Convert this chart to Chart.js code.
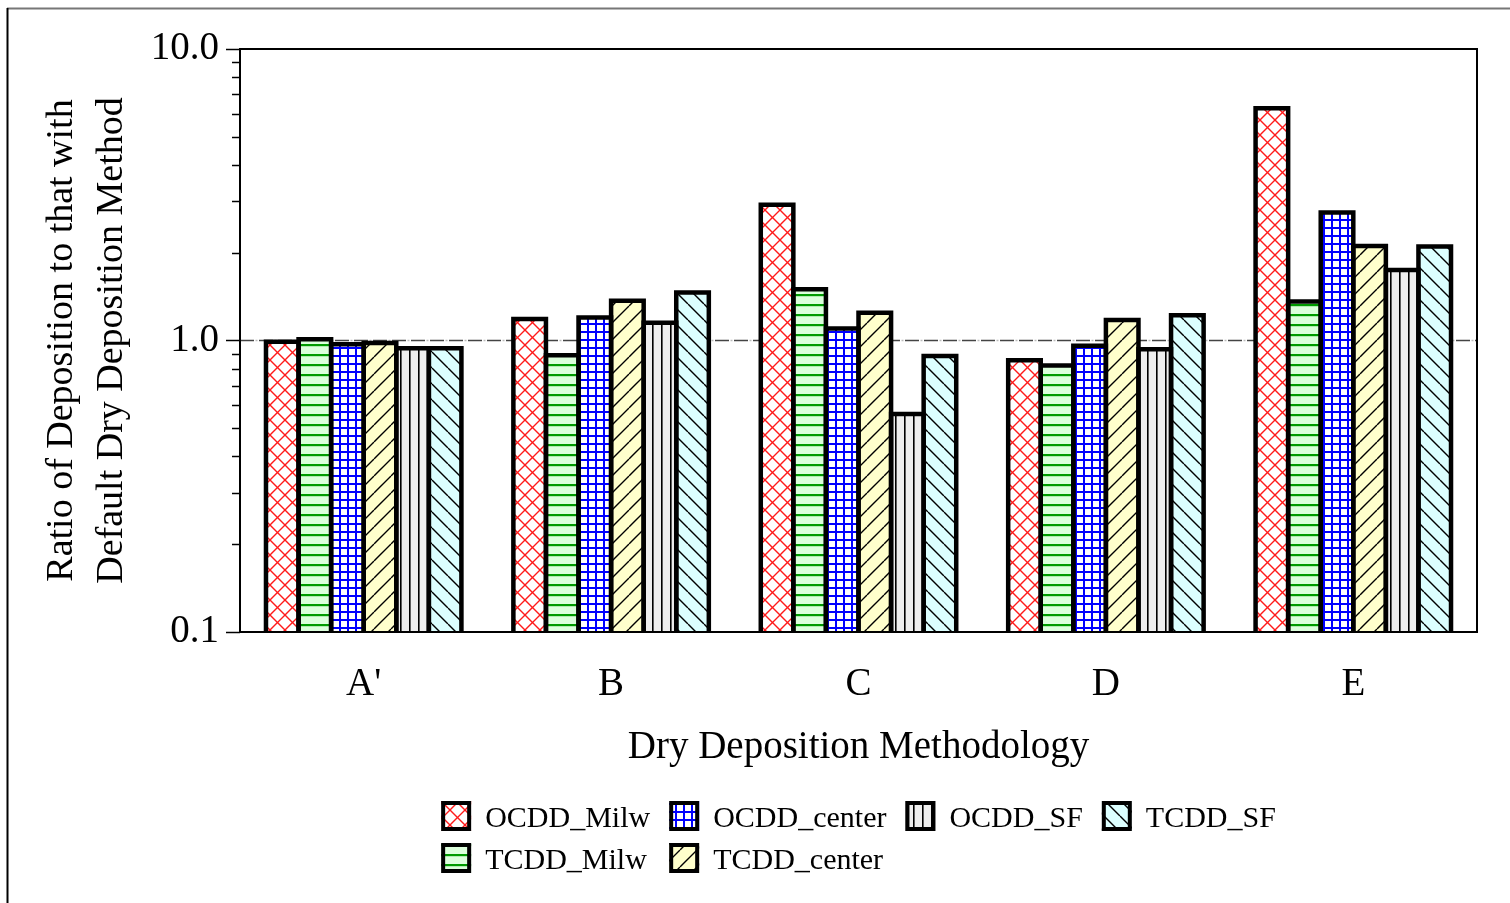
<!DOCTYPE html>
<html><head><meta charset="utf-8">
<script src="https://cdn.jsdelivr.net/npm/chart.js@4.4.1/dist/chart.umd.min.js"></script>
<style>
html,body{margin:0;padding:0;background:#fff;overflow:hidden;}
#wrap{position:relative;width:1510px;height:903px;}
</style></head><body>
<div id="wrap"><canvas id="c" width="1510" height="903"></canvas></div>
<script>
// ---- data ----
const categories = ["A'", 'B', 'C', 'D', 'E'];
const seriesNames = ['OCDD_Milw', 'TCDD_Milw', 'OCDD_center', 'TCDD_center', 'OCDD_SF', 'TCDD_SF'];
const ocddMilw   = [0.99, 1.185, 2.92, 0.855, 6.26];
const tcddMilw   = [1.01, 0.89, 1.50, 0.82, 1.36];
const ocddCenter = [0.97, 1.20, 1.10, 0.96, 2.75];
const tcddCenter = [0.98, 1.37, 1.245, 1.175, 2.11];
const ocddSF     = [0.94, 1.15, 0.56, 0.933, 1.745];
const tcddSF     = [0.94, 1.46, 0.885, 1.22, 2.10];
const yTickValues = [0.1,0.2,0.3,0.4,0.5,0.6,0.7,0.8,0.9,1,2,3,4,5,6,7,8,9,10];
const yMajorValues = [0.1, 1, 10];
const yMajorLabels = ['0.1', '1.0', '10.0'];
const xTitle = 'Dry Deposition Methodology';
const yTitle = ['Ratio of Deposition to that with', 'Default Dry Deposition Method'];
// legend columns (series indices, top row first)
const legendColumns = [[0, 1], [2, 3], [4], [5]];

const FONT = "'Liberation Serif', 'Times New Roman', serif";
const canvas = document.getElementById('c');
const mainCtx = canvas.getContext('2d');

function makePattern(size, bg, draw) {
  const c = document.createElement('canvas');
  c.width = size; c.height = size;
  const g = c.getContext('2d');
  g.fillStyle = bg; g.fillRect(0, 0, size, size);
  draw(g, size);
  return mainCtx.createPattern(c, 'repeat');
}
function diag(g, s, dir) {
  g.beginPath();
  for (const k of [-s, 0, s]) {
    if (dir > 0) { g.moveTo(k, s); g.lineTo(k + s, 0); }   // "/"
    else { g.moveTo(k, 0); g.lineTo(k + s, s); }           // "\"
  }
  g.stroke();
}
const patterns = [
  makePattern(15, '#ffffff', (g, s) => { g.strokeStyle = '#ff1a1a'; g.lineWidth = 1.4; diag(g, s, 1); diag(g, s, -1); }),
  makePattern(10, '#dcffdc', (g, s) => { g.fillStyle = '#009a00'; g.fillRect(0, 4, s, 2.2); }),
  makePattern(8, '#ffffff', (g, s) => { g.fillStyle = '#0000ff'; g.fillRect(3, 0, 2, s); g.fillRect(0, 3, s, 2); }),
  makePattern(17, '#ffffcc', (g, s) => { g.strokeStyle = '#000'; g.lineWidth = 1.4; diag(g, s, 1); }),
  makePattern(9, '#eeeeee', (g, s) => { g.fillStyle = '#000'; g.fillRect(4, 0, 1.6, s); }),
  makePattern(16, '#dcffff', (g, s) => { g.strokeStyle = '#000'; g.lineWidth = 1.4; diag(g, s, -1); })
];
const seriesData = [ocddMilw, tcddMilw, ocddCenter, tcddCenter, ocddSF, tcddSF];

const isMajor = v => yMajorValues.some(m => Math.abs(m - v) < 1e-9);
const majorLabel = v => { const i = yMajorValues.findIndex(m => Math.abs(m - v) < 1e-9); return i >= 0 ? yMajorLabels[i] : ''; };

const decor = {
  id: 'decor',
  beforeDraw(chart) {
    const c = chart.ctx;
    c.save();
    c.fillStyle = '#fff'; c.fillRect(0, 0, chart.width, chart.height);
    c.restore();
  },
  beforeDatasetsDraw(chart) {
    const c = chart.ctx, a = chart.chartArea, y = chart.scales.y.getPixelForValue(1);
    c.save();
    c.lineWidth = 1.5;
    c.strokeStyle = '#bbbbbb'; c.setLineDash([2, 17]); c.lineDashOffset = 3.5;
    c.beginPath(); c.moveTo(a.left, y); c.lineTo(a.right, y); c.stroke();
    c.strokeStyle = '#444444'; c.setLineDash([14, 5]); c.lineDashOffset = 0;
    c.beginPath(); c.moveTo(a.left, y); c.lineTo(a.right, y); c.stroke();
    c.restore();
  },
  afterDatasetsDraw(chart) {
    const c = chart.ctx;
    c.save();
    c.strokeStyle = '#000'; c.lineWidth = 4.5; c.lineJoin = 'miter';
    chart.data.datasets.forEach((ds, i) => {
      const meta = chart.getDatasetMeta(i);
      meta.data.forEach(el => {
        const p = el.getProps(['x', 'y', 'base', 'width'], true);
        const l = p.x - p.width / 2, r = p.x + p.width / 2;
        c.beginPath(); c.moveTo(l, p.base); c.lineTo(l, p.y); c.lineTo(r, p.y); c.lineTo(r, p.base); c.stroke();
      });
    });
    c.restore();
  },
  afterDraw(chart) {
    const c = chart.ctx, a = chart.chartArea, ys = chart.scales.y;
    c.save();
    // plot frame
    c.strokeStyle = '#000'; c.lineWidth = 2;
    c.strokeRect(a.left, a.top, a.right - a.left, a.bottom - a.top);
    // minor ticks
    c.lineWidth = 1.5;
    yTickValues.forEach(v => {
      if (isMajor(v)) return;
      const y = Math.round(ys.getPixelForValue(v)) + 0.5;
      c.beginPath(); c.moveTo(a.left - 8, y); c.lineTo(a.left, y); c.stroke();
    });
    // outer frame
    c.strokeStyle = '#777'; c.lineWidth = 2;
    c.beginPath(); c.moveTo(7, 8.5); c.lineTo(chart.width, 8.5); c.stroke();
    c.strokeStyle = '#000'; c.lineWidth = 2;
    c.beginPath(); c.moveTo(7.5, 8); c.lineTo(7.5, chart.height); c.stroke();
    // legend
    const box = 30, gapText = 14, colGap = 19, rowGap = 42;
    c.font = '30px ' + FONT;
    c.textBaseline = 'middle'; c.textAlign = 'left';
    const ds = chart.data.datasets;
    const colW = legendColumns.map(col => box + gapText + Math.max(...col.map(i => c.measureText(ds[i].label).width)));
    const total = colW.reduce((s, w) => s + w, 0) + colGap * (colW.length - 1);
    let x = (a.left + a.right) / 2 - total / 2;
    const row0 = a.bottom + 184;
    legendColumns.forEach((col, k) => {
      col.forEach((i, r) => {
        const d = ds[i];
        const cy = row0 + r * rowGap;
        c.fillStyle = d.backgroundColor;
        c.fillRect(x, cy - box / 2, box, box);
        c.strokeStyle = '#000'; c.lineWidth = 4;
        c.strokeRect(x + 2, cy - box / 2 + 2, box - 4, box - 4);
        c.fillStyle = '#000';
        c.fillText(d.label, x + box + gapText, cy + 3);
      });
      x += colW[k] + colGap;
    });
    c.restore();
  }
};

Chart.defaults.font.family = FONT;
Chart.defaults.color = '#000';

new Chart(canvas, {
  type: 'bar',
  data: {
    labels: categories,
    datasets: seriesNames.map((name, i) => ({
      label: name,
      data: seriesData[i],
      backgroundColor: patterns[i],
      borderWidth: 0,
      categoryPercentage: 0.79,
      barPercentage: 1.0
    }))
  },
  options: {
    responsive: false,
    animation: false,
    layout: { padding: { left: 0, right: 33, top: 49, bottom: 121 } },
    plugins: { legend: { display: false }, tooltip: { enabled: false } },
    scales: {
      x: {
        type: 'category',
        grid: { display: false, drawTicks: false },
        border: { display: false },
        ticks: { padding: 29, font: { size: 39 }, color: '#000' },
        title: { display: true, text: xTitle, font: { size: 39 }, color: '#000', padding: { top: 0, bottom: 11 } },
        afterFit(s) { s.height = 150; }
      },
      y: {
        type: 'logarithmic',
        min: 0.1, max: 10,
        grid: {
          drawOnChartArea: false, drawTicks: true, tickLength: 14, tickWidth: 1.5,
          tickColor: ctx => (ctx.tick && isMajor(ctx.tick.value)) ? '#000' : 'rgba(0,0,0,0)'
        },
        border: { display: false },
        afterBuildTicks(s) { s.ticks = yTickValues.map(v => ({ value: v })); },
        ticks: { autoSkip: false, padding: 7, font: { size: 39 }, color: '#000', callback: v => majorLabel(v) },
        title: { display: true, text: yTitle, font: { size: 38, lineHeight: 1.316 }, color: '#000', padding: { top: 37, bottom: 0 } },
        afterFit(s) { s.width = 240; }
      }
    }
  },
  plugins: [decor]
});
</script>
</body></html>
